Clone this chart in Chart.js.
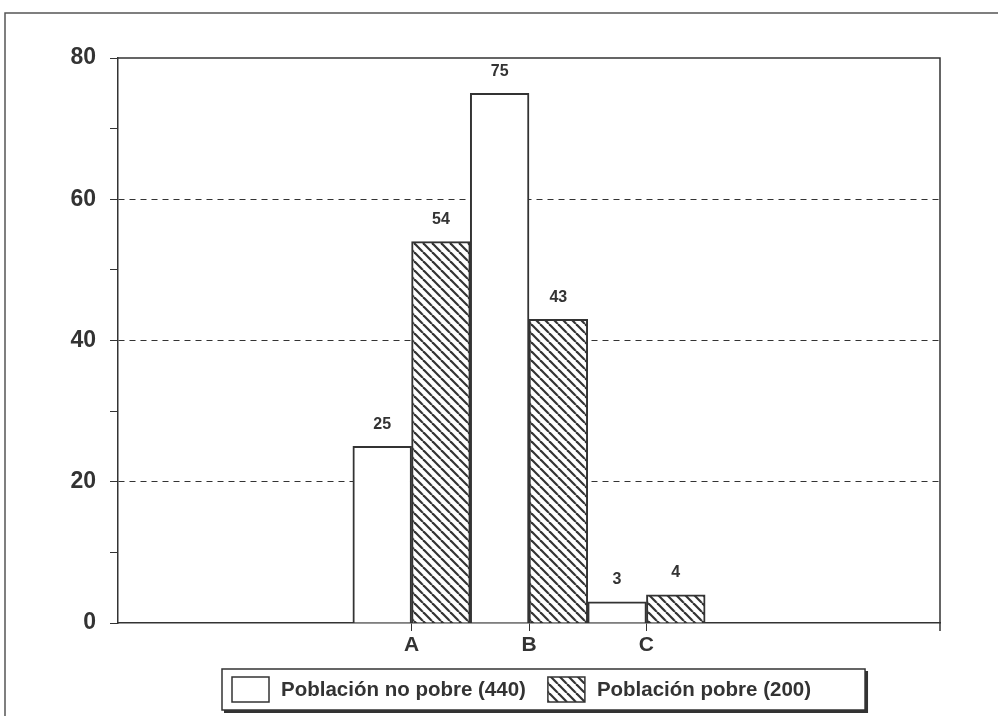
<!DOCTYPE html>
<html>
<head>
<meta charset="utf-8">
<script src="https://cdn.jsdelivr.net/npm/chart.js@4/dist/chart.umd.min.js"></script>
<style>
  html, body { margin: 0; padding: 0; background: #fff; }
  #wrap { width: 998px; height: 716px; position: relative; }
</style>
</head>
<body>
<div id="wrap"><canvas id="chart" width="998" height="716"></canvas></div>
<script>
// Datos del gráfico
const categories = ['', '', 'A', 'B', 'C', '', ''];
const noPobre = [null, null, 25, 75, 3, null, null];
const pobre = [null, null, 54, 43, 4, null, null];
const seriesNames = ['Población no pobre (440)', 'Población pobre (200)'];
const yMin = 0;
const yMax = 80;

const INK = '#333333';
const FONT = '"Liberation Sans", Arial, sans-serif';

// Trama diagonal para la serie "pobre"
function makeHatch() {
    const s = 9;
    const c = document.createElement('canvas');
    c.width = s;
    c.height = s;
    const g = c.getContext('2d');
    g.fillStyle = '#fff';
    g.fillRect(0, 0, s, s);
    g.strokeStyle = INK;
    g.lineWidth = 2.2;
    [-s, 0, s].forEach(o => {
        g.beginPath();
        g.moveTo(o, 0);
        g.lineTo(o + s, s);
        g.stroke();
    });
    return g.createPattern(c, 'repeat');
}
const hatch = makeHatch();

// Marco exterior, borde del área, etiquetas de valores y leyenda
const extras = {
    id: 'extras',
    beforeDraw(chart) {
        const ctx = chart.ctx;
        ctx.save();
        ctx.strokeStyle = '#555';
        ctx.lineWidth = 1.5;
        ctx.beginPath();
        ctx.moveTo(5, 716);
        ctx.lineTo(5, 13);
        ctx.lineTo(998, 13);
        ctx.stroke();
        ctx.restore();
    },
    afterDatasetsDraw(chart) {
        const ctx = chart.ctx;
        const a = chart.chartArea;
        ctx.save();
        ctx.strokeStyle = INK;
        ctx.lineWidth = 1.5;
        ctx.beginPath();
        ctx.moveTo(a.left, a.top);
        ctx.lineTo(a.right, a.top);
        ctx.lineTo(a.right, a.bottom + 8);
        ctx.stroke();

        ctx.fillStyle = INK;
        ctx.font = 'bold 16px ' + FONT;
        ctx.textAlign = 'center';
        ctx.textBaseline = 'bottom';
        chart.data.datasets.forEach((ds, di) => {
            chart.getDatasetMeta(di).data.forEach((bar, i) => {
                const v = ds.data[i];
                if (v == null) return;
                ctx.fillText(String(v), bar.x, bar.y - 14);
            });
        });

        // Leyenda enmarcada
        const swW = 37, swH = 25, gap = 12, itemGap = 22, padL = 10, padR = 54;
        ctx.font = 'bold 20.5px ' + FONT;
        const widths = chart.data.datasets.map(ds => ctx.measureText(ds.label).width);
        const total = padL + padR + widths.reduce((s, w) => s + swW + gap + w, 0) + itemGap * (widths.length - 1);
        const cx = (a.left + a.right) / 2 + 15;
        const x0 = Math.round(cx - total / 2);
        const y0 = 669, y1 = 710;
        ctx.lineWidth = 1.5;
        ctx.strokeRect(x0, y0, total, y1 - y0);
        ctx.lineWidth = 3;
        ctx.beginPath();
        ctx.moveTo(x0 + 2, y1 + 1.5);
        ctx.lineTo(x0 + total + 1.5, y1 + 1.5);
        ctx.lineTo(x0 + total + 1.5, y0 + 2);
        ctx.stroke();

        let x = x0 + padL;
        const midY = (y0 + y1) / 2;
        ctx.textAlign = 'left';
        ctx.textBaseline = 'middle';
        chart.data.datasets.forEach((ds, i) => {
            ctx.fillStyle = ds.backgroundColor;
            ctx.fillRect(x, midY - swH / 2, swW, swH);
            ctx.lineWidth = 1.5;
            ctx.strokeStyle = INK;
            ctx.strokeRect(x, midY - swH / 2, swW, swH);
            ctx.fillStyle = INK;
            ctx.fillText(ds.label, x + swW + gap, midY + 1);
            x += swW + gap + widths[i] + itemGap;
        });
        ctx.restore();
    }
};

new Chart(document.getElementById('chart'), {
    type: 'bar',
    data: {
        labels: categories,
        datasets: [{
            label: seriesNames[0],
            data: noPobre,
            backgroundColor: '#ffffff',
            borderColor: INK,
            borderWidth: 2,
            borderSkipped: 'bottom'
        }, {
            label: seriesNames[1],
            data: pobre,
            backgroundColor: hatch,
            borderColor: INK,
            borderWidth: 2,
            borderSkipped: 'bottom'
        }]
    },
    options: {
        responsive: false,
        animation: false,
        datasets: { bar: { categoryPercentage: 1.0, barPercentage: 1.0 } },
        layout: { padding: { left: 0, right: 58, top: 58, bottom: 55 } },
        plugins: {
            tooltip: { enabled: false },
            legend: { display: false }
        },
        scales: {
            x: {
                afterFit(s) { s.height = 38; },
                grid: {
                    offset: false,
                    drawOnChartArea: false,
                    tickLength: 8,
                    tickColor: ctx => (ctx.tick && ctx.tick.label) ? INK : 'transparent',
                    color: 'transparent'
                },
                border: { color: INK, width: 1.5 },
                ticks: {
                    color: INK,
                    font: { family: FONT, size: 21, weight: 'bold' },
                    padding: 2,
                    autoSkip: false,
                    maxRotation: 0
                }
            },
            y: {
                min: yMin,
                max: yMax,
                afterFit(s) { s.width = 118; },
                grid: {
                    color: ctx => {
                        const v = ctx.tick.value;
                        if (v % 20 !== 0 || v === 0 || v === yMax) return 'transparent';
                        return INK;
                    },
                    tickColor: INK,
                    tickLength: 8,
                    lineWidth: 1
                },
                border: { color: INK, width: 1.5, dash: [6, 5] },
                ticks: {
                    stepSize: 10,
                    color: INK,
                    padding: 14,
                    font: { family: FONT, size: 23, weight: 'bold' },
                    callback: v => (v % 20 === 0 ? v : '')
                }
            }
        }
    },
    plugins: [extras]
});
</script>
</body>
</html>
